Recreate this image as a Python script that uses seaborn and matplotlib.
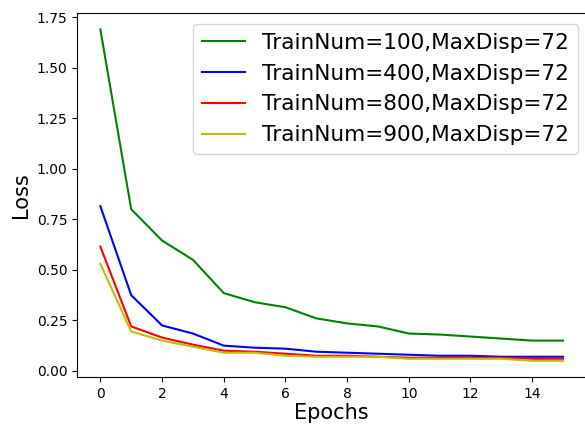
import matplotlib
matplotlib.use("Agg")
import matplotlib.pyplot as plt
import seaborn as sns
import pandas as pd

epochs = list(range(16))
loss_100 = [1.69, 0.80, 0.645, 0.55, 0.385, 0.34, 0.315, 0.26, 0.235, 0.22, 0.185, 0.18, 0.17, 0.16, 0.15, 0.15]
loss_400 = [0.815, 0.375, 0.225, 0.185, 0.125, 0.115, 0.11, 0.095, 0.09, 0.085, 0.08, 0.075, 0.075, 0.07, 0.07, 0.07]
loss_800 = [0.615, 0.22, 0.165, 0.13, 0.10, 0.095, 0.085, 0.075, 0.075, 0.07, 0.065, 0.065, 0.065, 0.065, 0.06, 0.06]
loss_900 = [0.53, 0.195, 0.15, 0.12, 0.09, 0.09, 0.075, 0.07, 0.07, 0.07, 0.06, 0.06, 0.06, 0.06, 0.05, 0.05]
labels = ["TrainNum=100,MaxDisp=72", "TrainNum=400,MaxDisp=72",
          "TrainNum=800,MaxDisp=72", "TrainNum=900,MaxDisp=72"]
colors = ["g", "b", "r", "y"]

frames = []
for lab, vals in zip(labels, [loss_100, loss_400, loss_800, loss_900]):
    frames.append(pd.DataFrame({"Epochs": epochs, "Loss": vals, "Series": lab}))
df = pd.concat(frames, ignore_index=True)

plt.rcParams['font.family'] = ['DejaVu Sans']
fig = plt.figure(figsize=(5.85, 4.25), dpi=100)
ax = fig.add_axes([0.132, 0.113, 0.87, 0.856])
sns.lineplot(data=df, x="Epochs", y="Loss", hue="Series", palette=dict(zip(labels, colors)),
             ax=ax, linewidth=1.5)
ax.set_xlim(-0.75, 15.75)
ax.set_ylim(-0.03, 1.77)
ax.set_xticks([0, 2, 4, 6, 8, 10, 12, 14])
ax.set_yticks([0.0, 0.25, 0.5, 0.75, 1.0, 1.25, 1.5, 1.75])
ax.set_yticklabels(["0.00", "0.25", "0.50", "0.75", "1.00", "1.25", "1.50", "1.75"])
ax.tick_params(labelsize=10)
ax.set_xlabel("Epochs", fontsize=15, labelpad=2)
ax.set_ylabel("Loss", fontsize=15)
leg = ax.legend(loc="upper right", fontsize=15.6, bbox_to_anchor=(0.984, 0.97),
                borderaxespad=0, handlelength=2.0)
fig.savefig("out.png", dpi=100)
